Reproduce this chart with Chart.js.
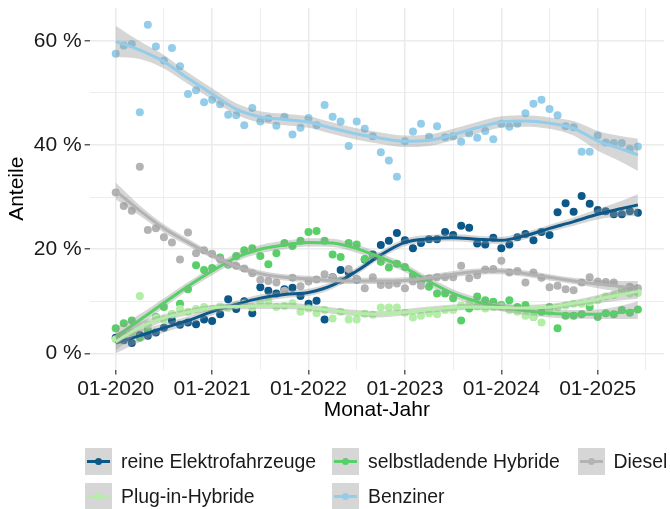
<!DOCTYPE html>
<html>
<head>
<meta charset="utf-8">
<script src="https://cdn.jsdelivr.net/npm/chart.js@4.4.1/dist/chart.umd.min.js"></script>
<style>
  body { margin: 0; background: #fff; }
  #wrap { position: relative; width: 670px; height: 509px; font-family: "Liberation Sans", Arial, sans-serif; }
  #c { position: absolute; left: 0; top: 0; }
  .key { position: absolute; width: 27px; height: 27px; background: #d6d6d6; }
  .key .ln { position: absolute; left: 2px; right: 2px; top: 12px; height: 3px; }
  .key .pt { position: absolute; left: 10px; top: 10px; width: 7px; height: 7px; border-radius: 50%; }
  .lab { position: absolute; font-size: 19.4px; line-height: 27px; color: #1a1a1a; white-space: nowrap; }
</style>
</head>
<body>
<div id="wrap">
  <canvas id="c" width="670" height="509"></canvas>
  <div id="legend"></div>
</div>
<script>
// ---- data (monthly shares in %, Jan 2020 = month 0) ----
const seriesNames = ['reine Elektrofahrzeuge', 'selbstladende Hybride', 'Diesel', 'Plug-in-Hybride', 'Benziner'];

const evShare = [3.0, 2.5, 2.0, 3.5, 3.4, 4.0, 4.9, 6.3, 5.5, 5.9, 5.6, 6.5, 6.2, 7.5, 10.4, 8.5, 10.0, 7.7, 12.7, 12.0,
  11.5, 12.3, 12.6, 11.0, 9.5, 10.1, 6.5, 14.6, 16.0, 15.5, 14.2, 18.0, 19.0, 20.8, 21.6, 23.1, 21.7, 20.2, 21.2, 21.9,
  21.9, 23.3, 22.7, 24.5, 24.1, 21.1, 20.9, 22.2, 20.2, 20.9, 22.3, 22.9, 21.7, 23.3, 22.7, 27.1, 28.8, 27.2, 30.2, 28.7,
  27.5, 27.3, 26.7, 26.7, 27.3, 27.0];
const hybridShare = [4.8, 5.8, 6.3, 3.0, 4.5, 7.0, 8.9, 7.5, 9.5, 12.3, 16.9, 16.0, 16.4, 18.4, 17.0, 18.7, 19.8, 20.2, 18.7, 17.1,
  19.2, 21.2, 20.6, 21.6, 23.3, 23.5, 21.6, 19.0, 18.5, 21.2, 20.9, 18.1, 18.5, 17.6, 16.5, 17.2, 16.6, 15.0, 13.8, 12.8,
  11.5, 11.5, 10.6, 6.3, 8.6, 10.9, 10.2, 9.9, 9.3, 10.2, 8.9, 9.3, 7.0, 8.0, 8.9, 4.8, 7.2, 7.2, 7.5, 8.9,
  7.0, 7.7, 7.5, 8.3, 7.8, 8.4];
const dieselShare = [30.9, 28.3, 27.4, 35.8, 23.7, 24.0, 22.3, 21.3, 18.0, 23.2, 19.2, 19.8, 19.1, 18.0, 17.2, 16.8, 16.3, 15.4, 14.1, 13.9,
  13.6, 12.0, 14.5, 12.9, 13.8, 14.2, 15.2, 14.6, 14.0, 16.2, 14.3, 12.5, 14.6, 13.1, 13.1, 13.4, 12.5, 13.8, 13.0, 14.4,
  14.6, 14.6, 14.6, 16.8, 14.4, 15.0, 16.1, 16.2, 17.8, 15.5, 15.8, 13.6, 15.5, 14.5, 12.7, 13.0, 12.3, 12.1, 13.6, 14.6,
  13.8, 13.7, 13.6, 12.0, 12.8, 12.5];
const phevShare = [2.7, 3.5, 4.0, 11.0, 5.5, 6.8, 6.5, 7.5, 8.5, 8.0, 8.5, 8.9, 8.5, 9.0, 8.7, 9.3, 9.5, 8.8, 9.9, 10.0,
  8.9, 9.1, 9.6, 8.0, 8.6, 7.7, 8.3, 6.7, 8.0, 6.5, 6.5, 7.6, 7.4, 8.8, 8.8, 8.8, 7.8, 6.9, 7.2, 7.7,
  7.5, 8.3, 8.3, 9.2, 9.5, 9.0, 8.6, 8.9, 9.0, 8.3, 8.0, 7.2, 7.0, 5.9, 8.0, 8.8, 9.2, 9.5, 9.5, 9.8,
  10.2, 10.9, 11.2, 12.0, 11.5, 11.6];
const benzinShare = [57.5, 59.1, 59.4, 46.3, 63.1, 58.9, 56.2, 58.6, 55.1, 49.8, 50.5, 48.2, 48.7, 47.8, 45.8, 45.7, 43.8, 47.1, 44.5, 45.1,
  43.7, 45.4, 42.0, 43.3, 45.2, 43.8, 47.7, 45.4, 44.5, 39.8, 44.5, 43.1, 41.7, 38.6, 37.0, 33.9, 40.7, 42.6, 44.1, 41.6,
  43.6, 41.5, 41.7, 40.6, 42.2, 41.4, 42.7, 41.1, 44.1, 43.5, 44.1, 46.1, 47.9, 48.7, 46.9, 45.7, 43.6, 43.4, 38.7, 38.7,
  41.8, 40.5, 40.4, 40.4, 39.3, 39.7];

// smoothed trend (loess), with half-width of its band
const fitMonths = [0, 3, 6, 9, 12, 15, 18, 21, 24, 27, 30, 33, 36, 39, 42, 45, 48, 51, 54, 57, 60, 63, 65];
const evFit = [2.0, 3.4, 4.9, 6.3, 8.0, 9.4, 10.6, 11.3, 11.7, 13.1, 15.8, 18.9, 21.3, 22.0, 22.2, 21.9, 21.7, 22.6, 24.0, 25.3, 26.7, 27.8, 28.5];
const evBand = [2.0, 1.2, 0.9, 0.8, 0.7, 0.7, 0.7, 0.7, 0.7, 0.7, 0.7, 0.7, 0.7, 0.7, 0.7, 0.7, 0.7, 0.7, 0.7, 0.8, 1.0, 1.5, 2.1];
const hybridFit = [3.2, 6.4, 9.7, 12.9, 15.8, 18.4, 20.0, 20.8, 21.3, 21.2, 20.1, 18.4, 16.4, 13.8, 11.5, 9.9, 8.9, 8.2, 7.7, 7.5, 7.5, 7.9, 8.3];
const hybridBand = [1.8, 1.1, 0.9, 0.8, 0.8, 0.8, 0.8, 0.8, 0.8, 0.8, 0.8, 0.8, 0.8, 0.8, 0.8, 0.8, 0.8, 0.8, 0.8, 0.8, 0.9, 1.3, 1.7];
const dieselFit = [31.2, 27.4, 24.0, 21.3, 18.8, 16.7, 15.3, 14.6, 14.3, 14.0, 13.9, 13.9, 14.0, 14.5, 15.2, 15.7, 15.8, 15.3, 14.6, 13.9, 13.3, 12.8, 12.5];
const dieselBand = [1.6, 1.0, 0.8, 0.7, 0.6, 0.6, 0.6, 0.6, 0.6, 0.6, 0.6, 0.6, 0.6, 0.6, 0.6, 0.6, 0.6, 0.6, 0.6, 0.6, 0.8, 1.1, 1.4];
const phevFit = [2.2, 5.0, 6.8, 7.9, 8.7, 9.0, 9.1, 9.1, 8.8, 8.2, 7.7, 7.5, 7.9, 8.4, 8.8, 8.9, 8.8, 8.7, 8.9, 9.6, 10.4, 11.3, 11.9];
const phevBand = [1.6, 1.0, 0.7, 0.6, 0.6, 0.6, 0.6, 0.6, 0.6, 0.6, 0.6, 0.6, 0.6, 0.6, 0.6, 0.6, 0.6, 0.6, 0.6, 0.6, 0.8, 1.1, 1.4];
const benzinFit = [59.9, 58.2, 56.0, 52.8, 49.8, 46.9, 45.4, 44.9, 44.4, 43.2, 42.1, 41.3, 40.7, 40.9, 42.0, 43.3, 44.4, 44.6, 44.2, 43.2, 40.8, 39.2, 38.1];
const benzinBand = [3.0, 1.7, 1.3, 1.1, 1.1, 1.1, 1.1, 1.1, 1.1, 1.1, 1.1, 1.1, 1.1, 1.1, 1.1, 1.1, 1.1, 1.1, 1.1, 1.4, 1.9, 2.5, 3.1];

const xTicks = [0, 6, 12, 18, 24, 30, 36, 42, 48, 54, 60, 66];
const yTicks = [0, 10, 20, 30, 40, 50, 60];

// ---- styling ----
const colors = ['#0b5889', '#57d068', '#b3b3b3', '#b2eea6', '#93cdea'];
const ribbon = 'rgba(153, 153, 153, 0.4)';
const FONT = '"Liberation Sans", Arial, sans-serif';

const shares = [evShare, hybridShare, dieselShare, phevShare, benzinShare];
const fits = [evFit, hybridFit, dieselFit, phevFit, benzinFit];
const bands = [evBand, hybridBand, dieselBand, phevBand, benzinBand];

const datasets = [];
shares.forEach(function (vals, k) {
    datasets.push({
        type: 'scatter',
        data: vals.map(function (v, i) { return { x: i, y: v }; }),
        backgroundColor: colors[k],
        borderWidth: 0,
        pointRadius: 4,
        order: 100 - k
    });
});
fits.forEach(function (fit, k) {
    const lowerIdx = datasets.length;
    const base = 50 - k * 3;
    datasets.push({
        type: 'line',
        data: fitMonths.map(function (m, j) { return { x: m, y: fit[j] - bands[k][j] }; }),
        borderWidth: 0, pointRadius: 0, fill: false,
        cubicInterpolationMode: 'monotone',
        order: base
    });
    datasets.push({
        type: 'line',
        data: fitMonths.map(function (m, j) { return { x: m, y: fit[j] + bands[k][j] }; }),
        borderWidth: 0, pointRadius: 0,
        fill: { target: lowerIdx },
        backgroundColor: ribbon,
        cubicInterpolationMode: 'monotone',
        order: base - 1
    });
    datasets.push({
        type: 'line',
        data: fitMonths.map(function (m, j) { return { x: m, y: fit[j] }; }),
        borderColor: colors[k], borderWidth: 3, pointRadius: 0, fill: false,
        cubicInterpolationMode: 'monotone',
        order: base - 2
    });
});

new Chart(document.getElementById('c').getContext('2d'), {
    type: 'scatter',
    data: { datasets: datasets },
    options: {
        responsive: false,
        animation: false,
        layout: { padding: { top: 8, right: 6, bottom: 83.5, left: 0 } },
        plugins: { legend: { display: false }, tooltip: { enabled: false } },
        scales: {
            x: {
                type: 'linear', min: -3.25, max: 68.25,
                afterBuildTicks: function (s) { s.ticks = xTicks.map(function (v) { return { value: v }; }); },
                afterFit: function (s) { s.height = 56; s.paddingLeft = 0; s.paddingRight = 0; },
                border: { display: false },
                grid: {
                    color: '#ebebeb',
                    lineWidth: function (c) { return c.tick && c.tick.value % 12 === 0 ? 1.6 : 0.9; },
                    tickLength: 5,
                    tickWidth: 1.2,
                    tickColor: function (c) { return c.tick && c.tick.value % 12 === 0 ? '#333333' : 'rgba(0,0,0,0)'; }
                },
                ticks: {
                    autoSkip: false, maxRotation: 0, padding: 2,
                    color: '#1a1a1a', font: { family: FONT, size: 21 },
                    callback: function (v) { return v % 12 === 0 ? '01-' + (2020 + v / 12) : ''; }
                },
                title: {
                    display: true, text: 'Monat-Jahr', color: '#000',
                    font: { family: FONT, size: 21 }, padding: { top: 0, bottom: 3 }
                }
            },
            y: {
                min: -3.1, max: 66.3,
                afterBuildTicks: function (s) { s.ticks = yTicks.map(function (v) { return { value: v }; }); },
                afterFit: function (s) { s.width = 89.6; s.paddingTop = 0; s.paddingBottom = 0; },
                border: { display: false },
                grid: {
                    color: '#ebebeb',
                    lineWidth: function (c) { return c.tick && c.tick.value % 20 === 0 ? 1.6 : 0.9; },
                    tickLength: 5,
                    tickWidth: 1.2,
                    tickColor: function (c) { return c.tick && c.tick.value % 20 === 0 ? '#333333' : 'rgba(0,0,0,0)'; }
                },
                ticks: {
                    padding: 3,
                    color: '#1a1a1a', font: { family: FONT, size: 21 },
                    callback: function (v) { return v % 20 === 0 ? v + ' %' : ''; }
                },
                title: {
                    display: true, text: 'Anteile', color: '#000',
                    font: { family: FONT, size: 21 }, padding: { top: 4.5, bottom: 0 }
                }
            }
        }
    }
});

// ---- legend (ggplot style, 2 rows) ----
const legendSlots = [[85, 448], [332, 448], [577.5, 448], [85, 482.5], [332, 482.5]];
const legend = document.getElementById('legend');
seriesNames.forEach(function (name, k) {
    const key = document.createElement('div');
    key.className = 'key';
    key.style.left = legendSlots[k][0] + 'px';
    key.style.top = legendSlots[k][1] + 'px';
    key.innerHTML = '<div class="ln" style="background:' + colors[k] + '"></div>' +
        '<div class="pt" style="background:' + colors[k] + '"></div>';
    legend.appendChild(key);
    const lab = document.createElement('div');
    lab.className = 'lab';
    lab.style.left = (legendSlots[k][0] + 36) + 'px';
    lab.style.top = legendSlots[k][1] + 'px';
    lab.textContent = name;
    legend.appendChild(lab);
});
</script>
</body>
</html>
